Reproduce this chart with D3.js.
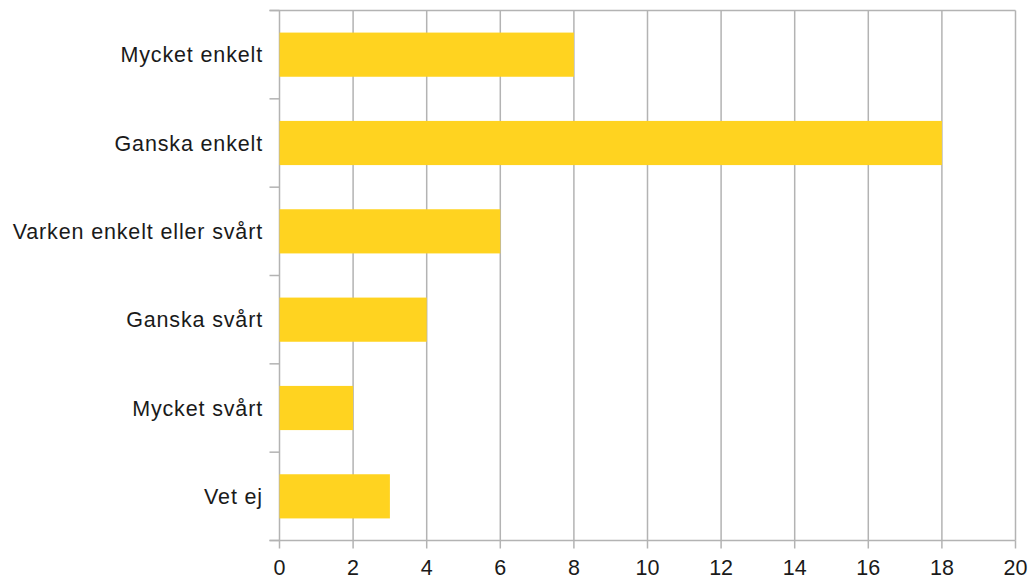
<!DOCTYPE html>
<html>
<head>
<meta charset="utf-8">
<script src="https://cdn.jsdelivr.net/npm/d3@7"></script>
<style>
  body { margin: 0; background: #fff; }
  text { font-family: "Liberation Sans", Arial, sans-serif; fill: #1a1a1a; }
</style>
</head>
<body>
<svg width="1030" height="581"></svg>
<script>
var categories = ["Mycket enkelt", "Ganska enkelt", "Varken enkelt eller svårt", "Ganska svårt", "Mycket svårt", "Vet ej"];
var values = [8, 18, 6, 4, 2, 3];
var xTicks = [0, 2, 4, 6, 8, 10, 12, 14, 16, 18, 20];

var svg = d3.select("svg");
// note: "top" is taken by window.top, so use other names
var plotLeft = 279.5, plotRight = 1015.5, plotTop = 10.5, plotBottom = 540.5;
var gridColor = "#b3b3b3";

var x = d3.scaleLinear().domain([0, 20]).range([plotLeft, plotRight]);
var y = d3.scaleBand().domain(categories).range([plotTop, plotBottom]).paddingInner(0.5).paddingOuter(0.25);
var yEdges = d3.scaleLinear().domain([0, categories.length]).range([plotTop, plotBottom]);

// vertical gridlines
svg.append("g").selectAll("line")
    .data(xTicks)
    .enter().append("line")
    .attr("x1", function(d) { return x(d); })
    .attr("x2", function(d) { return x(d); })
    .attr("y1", plotTop)
    .attr("y2", plotBottom)
    .attr("stroke", gridColor)
    .attr("stroke-width", 1.5);

// top line
svg.append("line")
    .attr("x1", plotLeft - 10).attr("x2", plotRight)
    .attr("y1", plotTop).attr("y2", plotTop)
    .attr("stroke", gridColor).attr("stroke-width", 1.5);

// bars
svg.append("g").selectAll("rect")
    .data(values)
    .enter().append("rect")
    .attr("x", x(0))
    .attr("y", function(d, i) { return y(categories[i]); })
    .attr("width", function(d) { return x(d) - x(0); })
    .attr("height", y.bandwidth())
    .attr("fill", "#ffd320");

// y axis ticks (band boundaries)
svg.append("g").selectAll("line")
    .data(d3.range(categories.length + 1))
    .enter().append("line")
    .attr("x1", plotLeft - 10).attr("x2", plotLeft)
    .attr("y1", function(d) { return yEdges(d); })
    .attr("y2", function(d) { return yEdges(d); })
    .attr("stroke", gridColor).attr("stroke-width", 1.5);

// x axis line
svg.append("line")
    .attr("x1", plotLeft - 10).attr("x2", plotRight)
    .attr("y1", plotBottom).attr("y2", plotBottom)
    .attr("stroke", gridColor).attr("stroke-width", 1.5);

// x ticks
svg.append("g").selectAll("line")
    .data(xTicks)
    .enter().append("line")
    .attr("x1", function(d) { return x(d); })
    .attr("x2", function(d) { return x(d); })
    .attr("y1", plotBottom).attr("y2", plotBottom + 8)
    .attr("stroke", gridColor).attr("stroke-width", 1.5);

// x labels
svg.append("g").selectAll("text")
    .data(xTicks)
    .enter().append("text")
    .attr("x", function(d) { return x(d); })
    .attr("y", 575)
    .attr("text-anchor", "middle")
    .attr("font-size", 21.5)
    .text(function(d) { return d; });

// y labels
svg.append("g").selectAll("text")
    .data(categories)
    .enter().append("text")
    .attr("x", 263)
    .attr("y", function(d) { return y(d) + y.bandwidth() / 2; })
    .attr("dy", "0.35em")
    .attr("text-anchor", "end")
    .attr("font-size", 21.5)
    .attr("letter-spacing", 0.85)
    .text(function(d) { return d; });
</script>
</body>
</html>
